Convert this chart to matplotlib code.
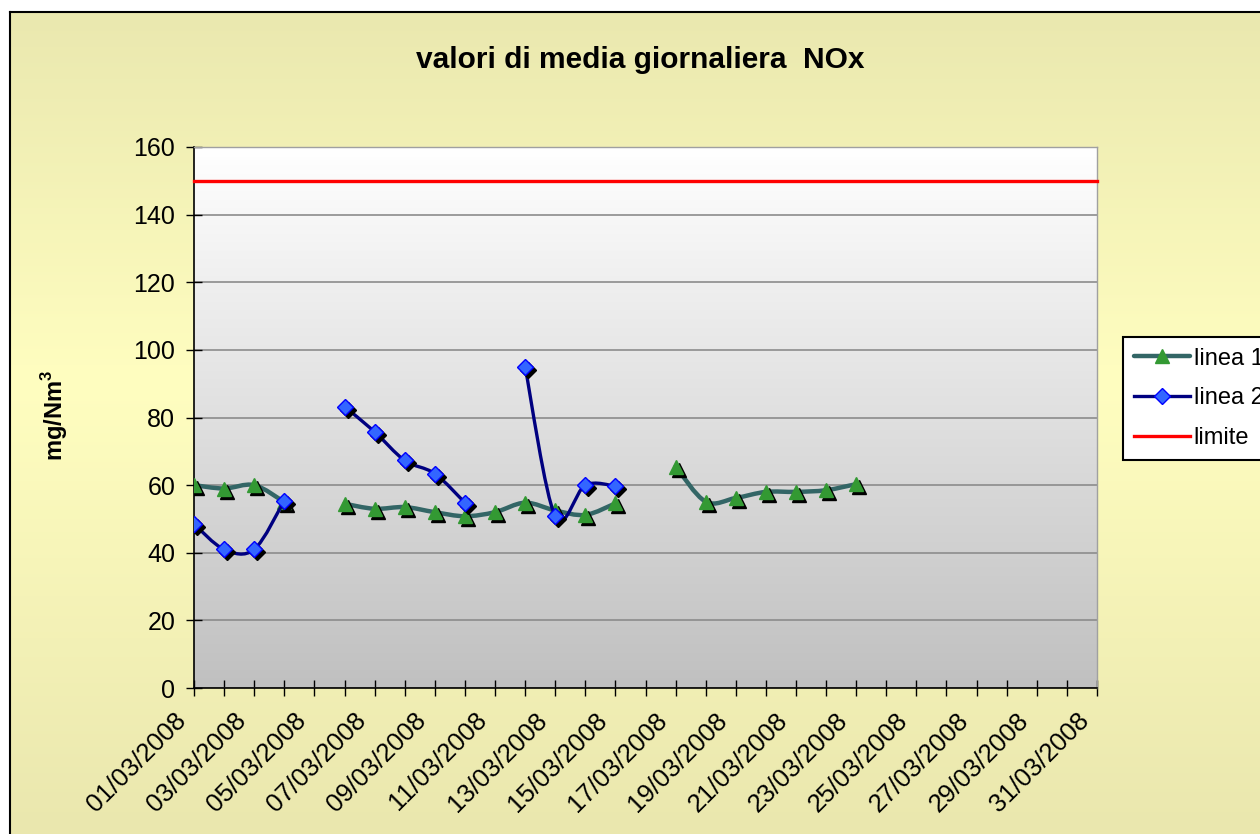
import matplotlib

matplotlib.use("Agg")

import matplotlib.pyplot as plt
import matplotlib.transforms as mtransforms
import numpy as np
from matplotlib.colors import LinearSegmentedColormap
from matplotlib.lines import Line2D
from matplotlib.patches import PathPatch
from matplotlib.path import Path

plt.rcParams["font.family"] = ["Liberation Sans", "DejaVu Sans"]
plt.rcParams["mathtext.fontset"] = "custom"
plt.rcParams["mathtext.rm"] = "Liberation Sans"
plt.rcParams["mathtext.bf"] = "Liberation Sans:bold"

# days of March 2008, one category per day
days = list(range(1, 32))
day_labels = [f"{d:02d}/03/2008" for d in days]

nan = np.nan
linea1 = [60, 59, 60, 55, nan, 54.5, 53, 53.5, 52, 50.8, 52, 54.8, 52.5, 51.2, 54.6, nan,
          65.5, 55.1, 56.2, 58, 58, 58.5, 60.3, nan, nan, nan, nan, nan, nan, nan, nan]
linea2 = [48.5, 41, 41, 55.4, nan, 83.2, 75.8, 67.3, 63.4, 54.8, nan, 95, 50.8, 60, 59.7, nan,
          nan, nan, nan, nan, nan, nan, nan, nan, nan, nan, nan, nan, nan, nan, nan]
limite = [150] * 31

W, H = 1260, 834


def smooth_path(x, y):
    """Excel-like smoothed line: cubic Bezier per segment, broken at gaps."""
    verts, codes = [], []
    x = np.asarray(x, float)
    y = np.asarray(y, float)
    ok = ~np.isnan(y)
    runs, start = [], None
    for i, v in enumerate(ok):
        if v and start is None:
            start = i
        if not v and start is not None:
            runs.append((start, i))
            start = None
    if start is not None:
        runs.append((start, len(y)))
    for a, b in runs:
        px, py = x[a:b], y[a:b]
        n = len(px)
        verts.append((px[0], py[0]))
        codes.append(Path.MOVETO)
        for i in range(n - 1):
            i0, i2 = max(i - 1, 0), min(i + 2, n - 1)
            c1 = (px[i] + (px[i + 1] - px[i0]) / 6, py[i] + (py[i + 1] - py[i0]) / 6)
            c2 = (px[i + 1] - (px[i2] - px[i]) / 6, py[i + 1] - (py[i2] - py[i]) / 6)
            verts += [c1, c2, (px[i + 1], py[i + 1])]
            codes += [Path.CURVE4] * 3
    return Path(verts, codes)


fig = plt.figure(figsize=(W / 100, H / 100), dpi=100)
fig.patch.set_facecolor("white")

# chart area background (pale yellow gradient) with black border
bg = fig.add_axes([10 / W, 0, 1 - 10 / W, 1 - 12 / H], zorder=-10)
bg_cmap = LinearSegmentedColormap.from_list(
    "bg", [(0, "#eae8af"), (0.45, "#fffec0"), (1, "#eae7ae")])
bg.imshow(np.linspace(0, 1, 256).reshape(-1, 1), cmap=bg_cmap, aspect="auto",
          extent=[0, 1, 0, 1], origin="upper")
bg.set_xticks([])
bg.set_yticks([])
for s in ["right", "bottom"]:
    bg.spines[s].set_visible(False)
for s in ["left", "top"]:
    bg.spines[s].set_linewidth(1.5)
    bg.spines[s].set_color("black")

ax = fig.add_axes([194 / W, 1 - 688 / H, (1097 - 194) / W, (688 - 147) / H])
ax.set_xlim(1, 31)
ax.set_ylim(0, 160)

# plot area: white -> grey gradient
pa_cmap = LinearSegmentedColormap.from_list("pa", ["#ffffff", "#c0c0c0"])
ax.imshow(np.linspace(0, 1, 256).reshape(-1, 1), cmap=pa_cmap, aspect="auto",
          extent=[0, 1, 0, 1], transform=ax.transAxes, zorder=0)

ax.set_yticks(range(0, 161, 20))
ax.yaxis.grid(True, color="#8c8c8c", linewidth=1.2, zorder=1)
ax.set_axisbelow(True)
ax.set_xticks(days)
ax.set_xticklabels([lab if d % 2 == 1 else "" for d, lab in zip(days, day_labels)],
                   rotation=45, ha="right", va="center", rotation_mode="anchor")
ax.tick_params(axis="x", direction="inout", length=11, width=1, pad=15, labelsize=18.5)
ax.tick_params(axis="y", direction="inout", length=11, width=1, pad=8, labelsize=18)
shift = mtransforms.ScaledTranslation(-0.12, 0, fig.dpi_scale_trans)
for lab in ax.get_xticklabels():
    lab.set_transform(lab.get_transform() + shift)
for s in ["left", "bottom"]:
    ax.spines[s].set_color("black")
    ax.spines[s].set_linewidth(1.2)
for s in ["top", "right"]:
    ax.spines[s].set_color("#a0a0a0")
    ax.spines[s].set_linewidth(1)

# limit line
ax.plot(days, limite, color="#ff0000", linewidth=2.4, zorder=3, clip_on=False)

shadow = mtransforms.offset_copy(ax.transData, fig=fig, x=3, y=-3, units="dots")

# linea 1
ax.add_patch(PathPatch(smooth_path(days, linea1), fill=False, edgecolor="#336666",
                       linewidth=3.2, capstyle="round", joinstyle="round", zorder=4))
ax.plot(days, linea1, ls="none", marker="^", ms=9.5, color="black", transform=shadow, zorder=5)
ax.plot(days, linea1, ls="none", marker="^", ms=9.5, color="#339933", mec="#339933", zorder=6)

# linea 2
ax.add_patch(PathPatch(smooth_path(days, linea2), fill=False, edgecolor="#000080",
                       linewidth=2.4, capstyle="round", joinstyle="round", zorder=7))
ax.plot(days, linea2, ls="none", marker="D", ms=8, color="black", transform=shadow, zorder=8)
ax.plot(days, linea2, ls="none", marker="D", ms=8, color="#3366ff", mec="#0000ff",
        mew=1, zorder=9)

fig.text(640 / W, 1 - 60 / H, "valori di media giornaliera  NOx", ha="center", va="center",
         fontsize=21.5, fontweight="bold")
fig.text(55 / W, 1 - 416 / H, r"mg/Nm$^{\mathbf{3}}$", rotation=90, ha="center",
         va="center", fontsize=17, fontweight="bold")

handles = [
    Line2D([], [], color="#336666", lw=3.2, solid_capstyle="round",
           marker="^", ms=9.5, mfc="#339933", mec="#339933"),
    Line2D([], [], color="#000080", lw=2.4, marker="D", ms=8, mfc="#3366ff", mec="#0000ff"),
    Line2D([], [], color="#ff0000", lw=2.4),
]
leg = fig.legend(handles, ["linea 1", "linea 2", "limite"], loc="upper left",
                 bbox_to_anchor=(1123 / W, 1 - 337 / H), fontsize=17, frameon=True,
                 fancybox=False, framealpha=1, edgecolor="black", handlelength=2.4,
                 handletextpad=0.15, labelspacing=0.75, borderpad=0.45, borderaxespad=0)
leg.get_frame().set_linewidth(1.5)

fig.savefig("out.png", dpi=100)
